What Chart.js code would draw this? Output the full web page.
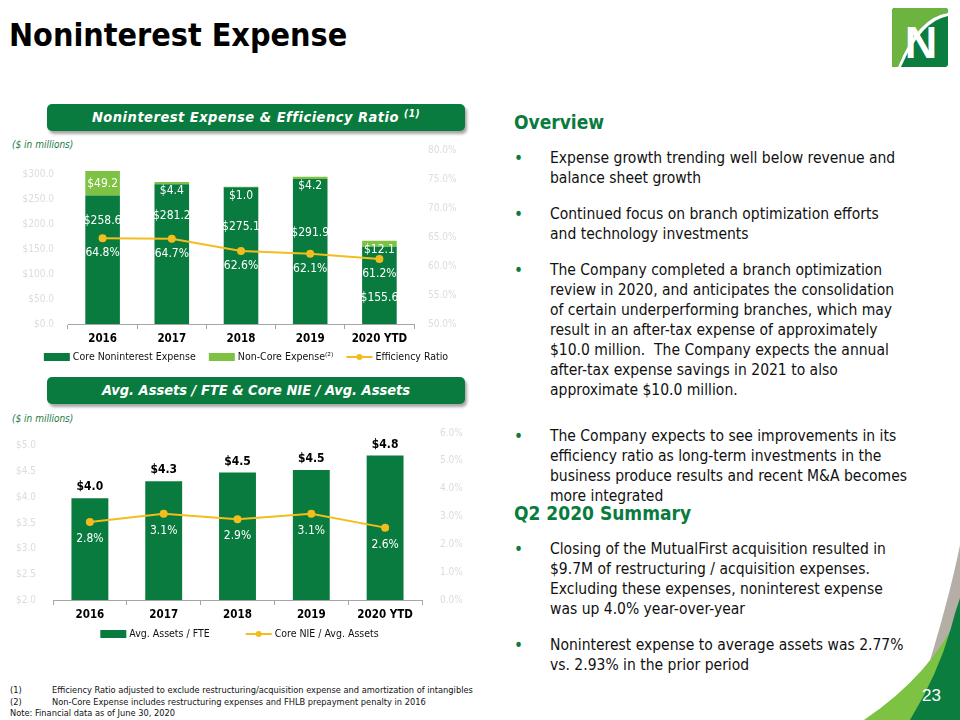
<!DOCTYPE html>
<html>
<head>
<meta charset="utf-8">
<script src="https://cdn.jsdelivr.net/npm/chart.js@4.4.1/dist/chart.umd.min.js"></script>
<style>
  body { margin: 0; background: #fff; }
  #page { position: relative; width: 960px; height: 720px; overflow: hidden;
          font-family: "DejaVu Sans Condensed", "DejaVu Sans", sans-serif; color: #111; }
  .abs { position: absolute; }
  #title { left: 9px; top: 16px; font-size: 32px; font-weight: bold; line-height: 38px; color: #000; }
  .banner { left: 47px; width: 418px; height: 27px; background: #0a7b3e; border-radius: 5px;
            box-shadow: 2px 3px 3px rgba(0,0,0,0.35); color: #fff; font-weight: bold; font-style: italic;
            font-size: 14.5px; line-height: 27px; text-align: center; }
  .banner sup { font-size: 10px; line-height: 0; vertical-align: 5px; }
  .units { left: 12px; font-size: 10px; font-style: italic; color: #1e7b45; }
  canvas { position: absolute; left: 0; }
  .head { left: 514px; font-size: 19px; font-weight: bold; color: #0a7b3e; line-height: 24px; }
  .bul { left: 550px; font-size: 15.5px; line-height: 20px; white-space: nowrap; color: #111; }
  .bul::before { content: "\2022"; position: absolute; left: -36px; top: 0; color: #0a7b3e; font-size: 17px; }
  .fn { left: 10px; font-size: 9.2px; line-height: 11.5px; color: #111; white-space: nowrap; }
  .fn span { display: inline-block; width: 42px; }
</style>
</head>
<body>
<div id="page">
  <div id="title" class="abs">Noninterest Expense</div>

  <svg class="abs" style="left:892px;top:8px" width="56" height="59" viewBox="0 0 56 59">
    <rect x="0" y="0" width="56" height="59" rx="3" fill="#0b7d3e"/>
    <path d="M3,0 L53,0 Q56,0 56,3 L56,5 Q26,9 6,59 L0,59 L0,3 Q0,0 3,0 Z" fill="#6cb33f"/>
    <path d="M56,5 Q26,9 6,59 L9,59 Q29,13 56,8 Z" fill="#ffffff"/>
    <text x="29" y="50" text-anchor="middle" font-family="Liberation Sans, Arial, sans-serif"
          font-weight="bold" font-size="45" fill="#ffffff">N</text>
  </svg>

  <div class="abs banner" style="top:104px;letter-spacing:0.5px">Noninterest Expense &amp; Efficiency Ratio <sup>(1)</sup></div>
  <div class="abs units" style="top:139px">($ in millions)</div>
  <canvas id="expenseChart" width="480" height="232" style="top:138px"></canvas>

  <div class="abs banner" style="top:377px">Avg. Assets / FTE &amp; Core NIE / Avg. Assets</div>
  <div class="abs units" style="top:413px">($ in millions)</div>
  <canvas id="assetsChart" width="480" height="238" style="top:412px"></canvas>

  <div class="abs head" style="top:110px">Overview</div>
  <div class="abs bul" style="top:148px">Expense growth trending well below revenue and<br>balance sheet growth</div>
  <div class="abs bul" style="top:204px">Continued focus on branch optimization efforts<br>and technology investments</div>
  <div class="abs bul" style="top:260px">The Company completed a branch optimization<br>review in 2020, and anticipates the consolidation<br>of certain underperforming branches, which may<br>result in an after-tax expense of approximately<br>$10.0 million.&nbsp; The Company expects the annual<br>after-tax expense savings in 2021 to also<br>approximate $10.0 million.</div>
  <div class="abs bul" style="top:426px">The Company expects to see improvements in its<br>efficiency ratio as long-term investments in the<br>business produce results and recent M&amp;A becomes<br>more integrated</div>
  <div class="abs head" style="top:501px">Q2 2020 Summary</div>
  <div class="abs bul" style="top:539px">Closing of the MutualFirst acquisition resulted in<br>$9.7M of restructuring / acquisition expenses.<br>Excluding these expenses, noninterest expense<br>was up 4.0% year-over-year</div>
  <div class="abs bul" style="top:635px">Noninterest expense to average assets was 2.77%<br>vs. 2.93% in the prior period</div>

  <div class="abs fn" style="top:684px"><span>(1)</span>Efficiency Ratio adjusted to exclude restructuring/acquisition expense and amortization of intangibles</div>
  <div class="abs fn" style="top:695.5px"><span>(2)</span>Non-Core Expense includes restructuring expenses and FHLB prepayment penalty in 2016</div>
  <div class="abs fn" style="top:707px">Note: Financial data as of June 30, 2020</div>

  <svg class="abs" style="left:840px;top:540px" width="120" height="180" viewBox="840 540 120 180">
    <path d="M960,545 Q949,600 924,680 L960,680 Z" fill="#b5aea6"/>
    <path d="M864,720 Q932,674 960,612 L960,720 Z" fill="#7dc242"/>
    <path d="M910,720 Q938,674 951,628 Q955,612 960,598 L960,720 Z" fill="#0b7d3e"/>
  </svg>
  <div class="abs" style="left:922px;top:686px;font-family:'Liberation Sans',Arial,sans-serif;font-size:17px;color:#fff">23</div>
</div>

<script>
// chart 1: noninterest expense ($ in millions) and efficiency ratio (%)
const years = ["2016", "2017", "2018", "2019", "2020 YTD"];
const coreExpense = [258.6, 281.2, 275.1, 291.9, 155.6];
const nonCoreExpense = [49.2, 4.4, 1.0, 4.2, 12.1];
const efficiencyRatio = [64.8, 64.7, 62.6, 62.1, 61.2];
const expenseTicks = [0, 50, 100, 150, 200, 250, 300];
const ratioTicks = [50, 55, 60, 65, 70, 75, 80];

// chart 2: avg assets per FTE ($ in millions) and core NIE / avg assets (%)
const assetsPerFte = [3.98, 4.31, 4.48, 4.53, 4.81];
const nieToAssets = [2.8, 3.1, 2.9, 3.1, 2.6];
const fteTicks = [2.0, 2.5, 3.0, 3.5, 4.0, 4.5, 5.0];
const nieTicks = [0, 1, 2, 3, 4, 5, 6];

// core labels were nudged by hand in the deck so they dodge the ratio line
const coreLabelDrop = [25, 32, 40, 54, 51];

const darkGreen = "#0a7b3e";
const lightGreen = "#7dc242";
const gold = "#f2bd1d";
const faint = "#dcdcdc";
const axisGray = "#a6a6a6";
const FONT = '"DejaVu Sans Condensed", "DejaVu Sans", sans-serif';

Chart.defaults.font.family = FONT;

const valueLabels = {
  id: "valueLabels",
  afterDatasetsDraw(chart) {
    const ctx = chart.ctx;
    chart.data.datasets.forEach((ds, i) => {
      const lab = ds.valueLabel;
      if (!lab) return;
      chart.getDatasetMeta(i).data.forEach((el, j) => {
        const p = lab.place(el, j);
        ctx.save();
        ctx.font = lab.font;
        ctx.fillStyle = lab.color;
        ctx.textAlign = "center";
        ctx.textBaseline = "middle";
        ctx.fillText(lab.format(ds.data[j]), p.x, p.y);
        ctx.restore();
      });
    });
  }
};

const bottomLegend = {
  id: "bottomLegend",
  afterDraw(chart, args, opts) {
    const ctx = chart.ctx;
    const area = chart.chartArea;
    ctx.save();
    ctx.font = opts.font;
    ctx.textBaseline = "middle";
    const items = chart.data.datasets.map(ds => ({
      text: ds.label, color: ds.type === "line" ? ds.borderColor : ds.backgroundColor, line: ds.type === "line"
    }));
    const sw = 26, sp = 3;
    const widths = items.map(it => sw + sp + ctx.measureText(it.text).width);
    const total = widths.reduce((a, b) => a + b, 0) + opts.gap * (items.length - 1);
    let x = (area.left + area.right) / 2 + (opts.shift || 0) - total / 2;
    const y = area.bottom + opts.drop;
    items.forEach((it, k) => {
      if (it.line) {
        ctx.strokeStyle = it.color;
        ctx.lineWidth = 2;
        ctx.beginPath();
        ctx.moveTo(x, y);
        ctx.lineTo(x + sw, y);
        ctx.stroke();
        ctx.fillStyle = it.color;
        ctx.beginPath();
        ctx.arc(x + sw / 2, y, 3, 0, Math.PI * 2);
        ctx.fill();
      } else {
        ctx.fillStyle = it.color;
        ctx.fillRect(x, y - 4, sw, 8);
      }
      ctx.fillStyle = "#111";
      ctx.fillText(it.text, x + sw + sp, y);
      x += widths[k] + opts.gap;
    });
    ctx.restore();
  }
};

function fixedTicks(list) {
  return function (scale) {
    scale.ticks = list.map(v => ({ value: v }));
  };
}

new Chart(document.getElementById("expenseChart"), {
  type: "bar",
  data: {
    labels: years,
    datasets: [
      {
        label: "Core Noninterest Expense",
        data: coreExpense,
        backgroundColor: darkGreen,
        stack: "exp",
        order: 1,
        valueLabel: {
          font: "12px " + FONT, color: "#fff",
          format: v => "$" + v.toFixed(1),
          place: (el, j) => ({ x: el.x, y: el.y + coreLabelDrop[j] })
        }
      },
      {
        label: "Non-Core Expense\u207D\u00B2\u207E",
        data: nonCoreExpense,
        backgroundColor: lightGreen,
        stack: "exp",
        order: 1,
        valueLabel: {
          font: "12px " + FONT, color: "#fff",
          format: v => "$" + v.toFixed(1),
          place: el => ({ x: el.x, y: el.base - el.y > 20 ? (el.y + el.base) / 2 + 1 : el.y + 9 })
        }
      },
      {
        type: "line",
        label: "Efficiency Ratio",
        data: efficiencyRatio,
        yAxisID: "y1",
        borderColor: gold,
        backgroundColor: gold,
        borderWidth: 2,
        pointRadius: 4,
        pointBorderWidth: 0,
        pointBackgroundColor: gold,
        order: 0,
        valueLabel: {
          font: "12px " + FONT, color: "#fff",
          format: v => v.toFixed(1) + "%",
          place: el => ({ x: el.x, y: el.y + 15 })
        }
      }
    ]
  },
  options: {
    responsive: false,
    animation: false,
    devicePixelRatio: 1,
    layout: { padding: { top: 9, left: 0, right: 0, bottom: 0 } },
    datasets: { bar: { categoryPercentage: 1, barPercentage: 0.5 } },
    plugins: {
      legend: { display: false },
      tooltip: { enabled: false },
      bottomLegend: { font: "10.5px " + FONT, gap: 13, drop: 33, shift: 5 }
    },
    scales: {
      x: {
        stacked: true,
        grid: { display: true, drawOnChartArea: false, tickLength: 5, color: axisGray },
        border: { display: true, color: axisGray },
        ticks: { color: "#000", font: { size: 11.5, weight: "bold" }, padding: 3 },
        afterFit: s => { s.height = 46; }
      },
      y: {
        stacked: true,
        min: 0,
        max: 350,
        grid: { display: false },
        border: { display: false },
        ticks: { color: faint, font: { size: 10 }, padding: 6, callback: v => "$" + v.toFixed(1) },
        afterBuildTicks: fixedTicks(expenseTicks),
        afterFit: s => { s.width = 68; }
      },
      y1: {
        position: "right",
        min: 50,
        max: 80,
        grid: { display: false },
        border: { display: false },
        ticks: { color: faint, font: { size: 10 }, padding: 6, callback: v => v.toFixed(1) + "%" },
        afterBuildTicks: fixedTicks(ratioTicks),
        afterFit: s => { s.width = 66; }
      }
    }
  },
  plugins: [valueLabels, bottomLegend]
});

new Chart(document.getElementById("assetsChart"), {
  type: "bar",
  data: {
    labels: years,
    datasets: [
      {
        label: "Avg. Assets / FTE",
        data: assetsPerFte,
        backgroundColor: darkGreen,
        order: 1,
        valueLabel: {
          font: "bold 12px " + FONT, color: "#000",
          format: v => "$" + v.toFixed(1),
          place: el => ({ x: el.x, y: el.y - 11 })
        }
      },
      {
        type: "line",
        label: "Core NIE / Avg. Assets",
        data: nieToAssets,
        yAxisID: "y1",
        borderColor: gold,
        backgroundColor: gold,
        borderWidth: 2,
        pointRadius: 4,
        pointBorderWidth: 0,
        pointBackgroundColor: gold,
        order: 0,
        valueLabel: {
          font: "12px " + FONT, color: "#fff",
          format: v => v.toFixed(1) + "%",
          place: el => ({ x: el.x, y: el.y + 17 })
        }
      }
    ]
  },
  options: {
    responsive: false,
    animation: false,
    devicePixelRatio: 1,
    layout: { padding: { top: 21, left: 0, right: 0, bottom: 0 } },
    datasets: { bar: { categoryPercentage: 1, barPercentage: 0.5 } },
    plugins: {
      legend: { display: false },
      tooltip: { enabled: false },
      bottomLegend: { font: "10.5px " + FONT, gap: 36, drop: 34, shift: 2 }
    },
    scales: {
      x: {
        grid: { display: true, drawOnChartArea: false, tickLength: 5, color: axisGray },
        border: { display: true, color: axisGray },
        ticks: { color: "#000", font: { size: 11.5, weight: "bold" }, padding: 3 },
        afterFit: s => { s.height = 50; }
      },
      y: {
        min: 2,
        max: 5.25,
        grid: { display: false },
        border: { display: false },
        ticks: { color: faint, font: { size: 10 }, padding: 9, callback: v => "$" + v.toFixed(1) },
        afterBuildTicks: fixedTicks(fteTicks),
        afterFit: s => { s.width = 53; }
      },
      y1: {
        position: "right",
        min: 0,
        max: 6,
        grid: { display: false },
        border: { display: false },
        ticks: { color: faint, font: { size: 10 }, padding: 10, callback: v => v.toFixed(1) + "%" },
        afterBuildTicks: fixedTicks(nieTicks),
        afterFit: s => { s.width = 58; }
      }
    }
  },
  plugins: [valueLabels, bottomLegend]
});
</script>
</body>
</html>
